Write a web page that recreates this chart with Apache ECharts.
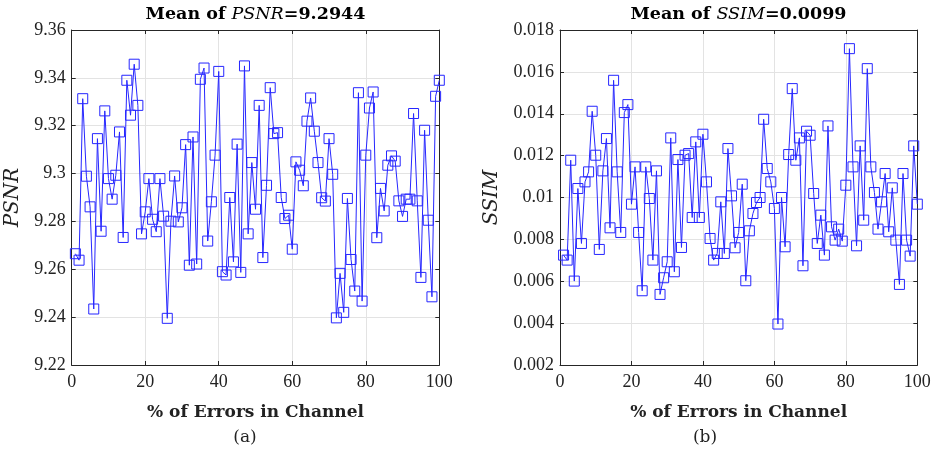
<!DOCTYPE html>
<html>
<head>
<meta charset="utf-8">
<script src="https://cdn.jsdelivr.net/npm/echarts@6/dist/echarts.min.js"></script>
<style>
html,body{margin:0;padding:0;background:#fff;}
#c{width:939px;height:453px;}
</style>
</head>
<body>
<div id="c"></div>
<script>
const errorsPct = [1,2,3,4,5,6,7,8,9,10,11,12,13,14,15,16,17,18,19,20,21,22,23,24,25,26,27,28,29,30,31,32,33,34,35,36,37,38,39,40,41,42,43,44,45,46,47,48,49,50,51,52,53,54,55,56,57,58,59,60,61,62,63,64,65,66,67,68,69,70,71,72,73,74,75,76,77,78,79,80,81,82,83,84,85,86,87,88,89,90,91,92,93,94,95,96,97,98,99,100];

const psnr = [9.2665,9.2638,9.3313,9.2989,9.2861,9.2434,9.3146,9.2759,9.3262,9.2979,
9.2893,9.2993,9.3174,9.2733,9.3390,9.3244,9.3457,9.3285,9.2748,9.2840,
9.2979,9.2809,9.2757,9.2979,9.2822,9.2395,9.2801,9.2990,9.2798,9.2857,
9.3121,9.2617,9.3153,9.2622,9.3394,9.3441,9.2718,9.2882,9.3077,9.3427,
9.2590,9.2576,9.2900,9.2631,9.3123,9.2587,9.3450,9.2748,9.3046,9.2851,
9.3285,9.2649,9.2951,9.3359,9.3167,9.3171,9.2900,9.2812,9.2826,9.2684,
9.3049,9.3014,9.2949,9.3219,9.3316,9.3177,9.3046,9.2899,9.2885,9.3146,
9.2997,9.2397,9.2583,9.2420,9.2896,9.2641,9.2509,9.3338,9.2467,9.3077,
9.3274,9.3341,9.2732,9.2938,9.2844,9.3035,9.3074,9.3052,9.2886,9.2821,
9.2893,9.2893,9.3251,9.2886,9.2566,9.3181,9.2805,9.2485,9.3323,9.3390];

const ssim = [0.007248,0.007010,0.011781,0.006008,0.010429,0.007805,0.010747,0.011224,0.014119,0.012020,
0.007519,0.011272,0.012815,0.008552,0.015598,0.011224,0.008330,0.014056,0.014437,0.009682,
0.011463,0.008330,0.005546,0.011463,0.009952,0.007010,0.011272,0.005371,0.006167,0.006930,
0.012847,0.006453,0.011813,0.007614,0.012020,0.012099,0.009046,0.012656,0.009046,0.013022,
0.010747,0.008043,0.007010,0.007328,0.009793,0.007328,0.012338,0.010079,0.007598,0.008330,
0.010636,0.006024,0.008409,0.009236,0.009761,0.010000,0.013737,0.011384,0.010747,0.009475,
0.003956,0.010000,0.007646,0.012052,0.015201,0.011781,0.012847,0.006739,0.013165,0.012974,
0.010191,0.007805,0.009157,0.007248,0.013419,0.008600,0.007964,0.008489,0.007916,0.010588,
0.017109,0.011463,0.007693,0.012465,0.008918,0.016155,0.011463,0.010238,0.008489,0.009793,
0.011145,0.008362,0.010461,0.007964,0.005849,0.011145,0.007964,0.007201,0.012465,0.009682];

const xTicks = [0,20,40,60,80,100];
const psnrTicks = [9.22,9.24,9.26,9.28,9.30,9.32,9.34,9.36];
const ssimTicks = [0.002,0.004,0.006,0.008,0.010,0.012,0.014,0.016,0.018];
const titles = ['Mean of ', 'PSNR', '=9.2944', 'SSIM', '=0.0099'];
const captions = ['(a)', '(b)'];
const xLabel = '% of Errors in Channel';

const TICKFONT = '"Liberation Serif"';
const FONT = '"DejaVu Serif"';
const AX = '#262626';
const GRID = '#e3e3e3';
const BLUE = '#2626ff';

const chart = echarts.init(document.getElementById('c'), null, {renderer: 'canvas'});

function fmtNum(v, d) { return String(Number(v.toFixed(d))); }

const grids = [
  {left: 71.7, right: 499.7, top: 30, bottom: 88},
  {left: 560, right: 21.7, top: 30, bottom: 88}
];

function mkX(gi, top) {
  return {
    type: 'value', gridIndex: gi, min: xTicks[0], max: xTicks[xTicks.length - 1],
    interval: xTicks[1] - xTicks[0],
    position: top ? 'top' : 'bottom',
    name: top ? '' : xLabel, nameLocation: 'middle', nameGap: 39,
    nameTextStyle: {fontFamily: FONT, fontWeight: 'bold', fontSize: 17, color: '#222'},
    axisLine: {show: true, onZero: false, lineStyle: {color: AX, width: 1}},
    axisTick: {show: true, inside: true, length: 4, lineStyle: {color: AX}},
    axisLabel: {show: !top, fontFamily: TICKFONT, fontSize: 18, color: '#222', margin: 8},
    splitLine: {show: !top, lineStyle: {color: GRID, width: 1}}
  };
}
function mkY(gi, right, ticks, dec, name, gap) {
  return {
    type: 'value', gridIndex: gi, min: ticks[0], max: ticks[ticks.length - 1],
    interval: ticks[1] - ticks[0],
    position: right ? 'right' : 'left',
    name: right ? '' : name, nameLocation: 'middle', nameGap: gap,
    nameTextStyle: {fontFamily: FONT, fontStyle: 'italic', fontSize: 20, color: '#222'},
    axisLine: {show: true, onZero: false, lineStyle: {color: AX, width: 1}},
    axisTick: {show: true, inside: true, length: 4, lineStyle: {color: AX}},
    axisLabel: {show: !right, fontFamily: TICKFONT, fontSize: 18, color: '#222', margin: 6,
      formatter: v => fmtNum(v, dec)},
    splitLine: {show: !right, lineStyle: {color: GRID, width: 1}}
  };
}

function mkSeries(xi, yi, vals) {
  return {
    type: 'line', xAxisIndex: xi, yAxisIndex: yi,
    data: vals.map((v, i) => [errorsPct[i], v]),
    symbol: 'rect', symbolSize: 10, showAllSymbol: true,
    lineStyle: {color: BLUE, width: 1},
    itemStyle: {color: 'rgba(255,255,255,0)', borderColor: BLUE, borderWidth: 1},
    emphasis: {disabled: true},
    animation: false
  };
}

const rich = {
  b: {fontFamily: FONT, fontWeight: 'bold', fontSize: 17.5, color: '#222'},
  i: {fontFamily: FONT, fontStyle: 'italic', fontSize: 17.5, color: '#222'}
};

chart.setOption({
  animation: false,
  grid: grids,
  xAxis: [mkX(0, false), mkX(0, true), mkX(1, false), mkX(1, true)],
  yAxis: [
    mkY(0, false, psnrTicks, 2, 'PSNR', 49),
    mkY(0, true, psnrTicks, 2, '', 0),
    mkY(1, false, ssimTicks, 3, 'SSIM', 58),
    mkY(1, true, ssimTicks, 3, '', 0)
  ],
  series: [mkSeries(0, 0, psnr), mkSeries(2, 2, ssim)],
  graphic: [
    {type: 'text', x: 255.5, y: 14, style: {
      text: '{b|' + titles[0] + '}{i|' + titles[1] + '}{b|' + titles[2] + '}', rich: rich,
      align: 'center', verticalAlign: 'middle'}},
    {type: 'text', x: 738.5, y: 14, style: {
      text: '{b|' + titles[0] + '}{i|' + titles[3] + '}{b|' + titles[4] + '}', rich: rich,
      align: 'center', verticalAlign: 'middle'}},
    {type: 'text', x: 245, y: 438, style: {text: captions[0], font: '17px "DejaVu Serif"', fill: '#222',
      align: 'center', verticalAlign: 'middle'}},
    {type: 'text', x: 705, y: 438, style: {text: captions[1], font: '17px "DejaVu Serif"', fill: '#222',
      align: 'center', verticalAlign: 'middle'}}
  ]
});
</script>
</body>
</html>
